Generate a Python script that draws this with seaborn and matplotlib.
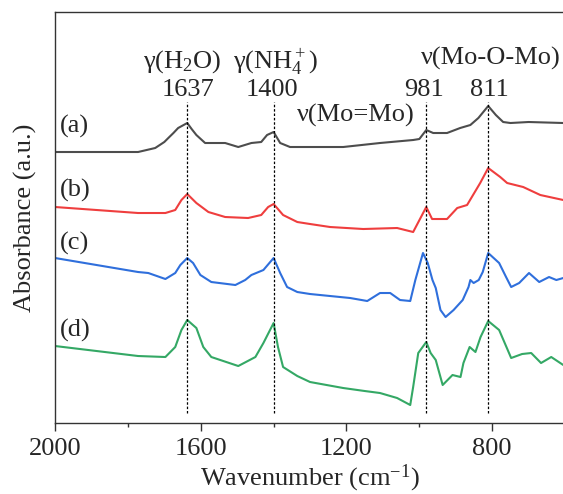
import matplotlib
matplotlib.use('Agg')
import matplotlib.pyplot as plt
from matplotlib.ticker import MultipleLocator
import pandas as pd
import seaborn as sns

# FTIR spectra, wavenumber (cm-1) and absorbance (a.u., offset per sample)
wn_a = [2000, 1772, 1725, 1700, 1689, 1675, 1662, 1637, 1625, 1612, 1588, 1560, 1533,
        1497, 1461, 1434, 1418, 1400, 1382, 1355, 1300, 1209, 1108, 1017, 1000, 981, 962,
        924, 888, 860, 838, 811, 790, 770, 750, 700, 605]
abs_a = [2.71, 2.71, 2.75, 2.81, 2.85, 2.90, 2.95, 3.00, 2.94, 2.88, 2.80, 2.80, 2.80,
         2.76, 2.80, 2.81, 2.88, 2.91, 2.80, 2.76, 2.76, 2.76, 2.80, 2.83, 2.84, 2.93, 2.90,
         2.90, 2.95, 2.98, 3.05, 3.17, 3.08, 3.01, 3.00, 3.01, 3.00]

wn_b = [2000, 1772, 1697, 1670, 1653, 1637, 1612, 1579, 1533, 1470, 1434, 1415, 1400,
        1374, 1335, 1300, 1245, 1154, 1061, 1017, 981, 965, 924, 896, 869, 833, 811, 778,
        759, 715, 668, 605]
abs_b = [2.16, 2.10, 2.10, 2.13, 2.23, 2.29, 2.20, 2.11, 2.06, 2.05, 2.08, 2.16, 2.19,
         2.08, 2.01, 1.99, 1.96, 1.94, 1.95, 1.91, 2.16, 2.04, 2.04, 2.15, 2.18, 2.40, 2.55,
         2.46, 2.40, 2.36, 2.28, 2.23]

wn_c = [2000, 1772, 1744, 1697, 1670, 1656, 1637, 1621, 1601, 1571, 1505, 1478, 1461,
        1428, 1400, 1382, 1363, 1335, 1300, 1190, 1143, 1108, 1080, 1053, 1025, 1011, 990,
        977, 964, 955, 942, 928, 906, 881, 865, 860, 851, 837, 826, 811, 781, 762, 748,
        726, 699, 671, 644, 624, 605]
abs_c = [1.65, 1.51, 1.50, 1.44, 1.50, 1.58, 1.65, 1.60, 1.48, 1.41, 1.38, 1.43, 1.48,
         1.53, 1.65, 1.50, 1.36, 1.31, 1.29, 1.25, 1.22, 1.30, 1.30, 1.23, 1.22, 1.43, 1.70,
         1.60, 1.43, 1.35, 1.13, 1.06, 1.13, 1.23, 1.36, 1.43, 1.40, 1.43, 1.51, 1.70, 1.60,
         1.46, 1.36, 1.40, 1.50, 1.41, 1.46, 1.43, 1.45]

wn_d = [2000, 1772, 1697, 1670, 1653, 1637, 1612, 1593, 1571, 1497, 1450, 1428, 1400,
        1388, 1374, 1335, 1300, 1209, 1150, 1108, 1061, 1025, 1017, 1003, 981, 969, 955,
        936, 909, 887, 879, 862, 846, 832, 811, 781, 748, 718, 693, 666, 638, 605]
abs_d = [0.77, 0.67, 0.66, 0.76, 0.93, 1.03, 0.95, 0.76, 0.66, 0.57, 0.66, 0.80, 1.00,
         0.76, 0.56, 0.47, 0.41, 0.35, 0.32, 0.30, 0.25, 0.18, 0.36, 0.70, 0.81, 0.70, 0.63,
         0.38, 0.48, 0.46, 0.60, 0.76, 0.71, 0.86, 1.02, 0.93, 0.65, 0.69, 0.70, 0.60, 0.66,
         0.58]

samples = ['(a)', '(b)', '(c)', '(d)']
colors = ['#4d4d4d', '#ef3e3e', '#2f6fdc', '#34a865']
peaks = [1637, 1400, 981, 811]

df = pd.concat([
    pd.DataFrame({'wn': wn_a, 'abs': abs_a, 'sample': '(a)'}),
    pd.DataFrame({'wn': wn_b, 'abs': abs_b, 'sample': '(b)'}),
    pd.DataFrame({'wn': wn_c, 'abs': abs_c, 'sample': '(c)'}),
    pd.DataFrame({'wn': wn_d, 'abs': abs_d, 'sample': '(d)'}),
])

sns.set_style('ticks')
plt.rcParams['font.family'] = ['Liberation Serif', 'DejaVu Serif']
plt.rcParams['mathtext.fontset'] = 'custom'
plt.rcParams['mathtext.rm'] = 'Liberation Serif'
plt.rcParams['mathtext.it'] = 'Liberation Serif:italic'

fig = plt.figure(figsize=(5.63, 4.94), dpi=100)
ax = fig.add_axes([0.0977, 0.1437, 0.906, 0.832])

sns.lineplot(data=df, x='wn', y='abs', hue='sample', hue_order=samples,
             palette=colors, linewidth=1.5, legend=False, sort=False,
             estimator=None, ax=ax)

ax.vlines(peaks, 0.10, 3.21, colors='black', linestyles=(0, (2, 1.5)), linewidth=0.9)

fs = 19
ax.text(1651, 3.55, r'γ(H$_2$O)', ha='center', va='baseline', fontsize=fs)
ax.text(1396, 3.55, r'γ(NH$_4^+$)', ha='center', va='baseline', fontsize=fs)
ax.text(1173, 3.01, 'ν(Mo=Mo)', ha='center', va='baseline', fontsize=fs)
ax.text(805, 3.58, 'ν(Mo-O-Mo)', ha='center', va='baseline', fontsize=fs)
for p, lbl_x in zip(peaks, [1635, 1404, 987, 808]):
    ax.text(lbl_x, 3.27, str(p), ha='center', va='baseline', fontsize=fs)
for s, y in zip(samples, [2.90, 2.26, 1.73, 0.86]):
    ax.text(1986, y, s, ha='left', va='baseline', fontsize=fs)

ax.set_xlim(2000, 600)
ax.set_ylim(0, 4.11)
ax.set_xticks([2000, 1600, 1200, 800])
ax.xaxis.set_minor_locator(MultipleLocator(200))
ax.set_yticks([])
ax.tick_params(axis='x', which='major', direction='out', length=6, width=1,
               labelsize=fs, pad=5, color='#333333')
ax.tick_params(axis='x', which='minor', direction='out', length=3, width=1,
               color='#333333')
for side in ['left', 'top', 'bottom']:
    ax.spines[side].set_color('#333333')
    ax.spines[side].set_linewidth(1)
ax.spines['right'].set_visible(False)

ax.set_xlabel(r'Wavenumber (cm$^{-1}$)', fontsize=19, labelpad=2)
ax.set_ylabel('Absorbance (a.u.)', fontsize=19, labelpad=13)

fig.savefig('out.png', dpi=100)
